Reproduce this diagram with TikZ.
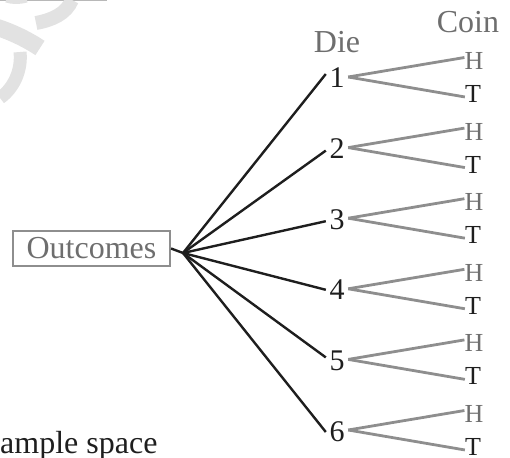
\documentclass[tikz,border=0pt]{standalone}
\usepackage{fontspec}
\setmainfont{Liberation Serif}
\definecolor{txtgray}{HTML}{6E6E6E}
\definecolor{lngray}{HTML}{8E8E8E}
\definecolor{dark}{HTML}{1E1E1E}
\definecolor{wm}{HTML}{E2E2E2}
\tikzset{
  big/.style={font=\fontsize{32}{36}\selectfont, inner sep=0pt},
  small/.style={font=\fontsize{26}{30}\selectfont, inner sep=0pt},
  dieline/.style={draw=dark, line width=2.4pt},
  coinline/.style={draw=lngray, line width=2.8pt},
  digit/.style={font=\fontsize{30}{34}\selectfont, text=dark, inner sep=3.5pt, text height=20pt, text depth=0pt},
  hlab/.style={small, text=txtgray, text height=17pt, text depth=0pt},
  tlab/.style={small, text=dark, text height=17pt, text depth=0pt},
  wmark/.style={draw=wm, line cap=butt}
}
\begin{document}
\begin{tikzpicture}[x=1pt,y=-1pt]
\useasboundingbox (0,0) rectangle (510,457);
% watermark
\draw[draw=black!28, line width=0.8pt] (0,0.4) -- (107,0.4);
\draw[wmark, line width=14pt] (72,0) .. controls (66,14) and (52,20) .. (36,23);
\draw[wmark, line width=17pt] (-4,27) .. controls (12,32) and (28,40) .. (40,48);
\draw[wmark, line width=13pt] (20,52) .. controls (22,70) and (14,88) .. (0,98);
\draw[wmark, line width=5pt] (6,0) .. controls (12,2) and (20,2) .. (27,0);
% root
\node[big, text=txtgray, draw=lngray, line width=2.2pt, minimum width=157pt, minimum height=35pt] (out) at (91.5,248.5) {Outcomes};
\coordinate (hub) at (183,253);
\node[big, text=txtgray] (die) at (337,42) {Die};
\node[big, text=txtgray] (coin) at (468,22) {Coin};
\node[big, text=dark, anchor=base west] (ss) at (0,453) {ample space};
\draw[dieline] (out.east) -- (hub);
\foreach \i/\s/\o in {1/77/-5, 2/147.6/1, 3/218.2/1, 4/288.8/-1, 5/359.4/-4, 6/430/0}{
  \node[digit] (d\i) at (337,\s+1) {\i};
  \draw[dieline] (hub) -- ([yshift=-\o pt-1pt]d\i.west);
  \node[hlab] (h\i) at (474,\s-16) {H};
  \node[tlab] (t\i) at (473,\s+17) {T};
  \draw[coinline] ([yshift=1pt]d\i.east) -- (h\i.160);
  \draw[coinline] ([yshift=1pt]d\i.east) -- (t\i.200);
}
\end{tikzpicture}
\end{document}
